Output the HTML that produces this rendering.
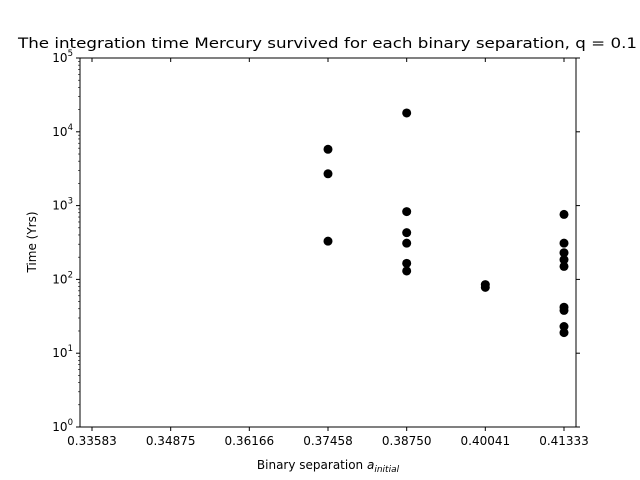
<!DOCTYPE html>
<html><head><meta charset="utf-8"><style>
body{margin:0;background:#fff;}
svg{display:block;font-family:"DejaVu Sans","Liberation Sans",sans-serif;}
</style></head><body>
<svg id="chart" width="640" height="480"></svg>
<script>
const xTicks=[0.33583,0.34875,0.36166,0.37458,0.38750,0.40041,0.41333];
const xTickLabels=["0.33583","0.34875","0.36166","0.37458","0.38750","0.40041","0.41333"];
const yTickExps=[0,1,2,3,4,5];
const pointX=[0.37458,0.37458,0.37458,0.38750,0.38750,0.38750,0.38750,0.38750,0.38750,0.40041,0.40041,0.41333,0.41333,0.41333,0.41333,0.41333,0.41333,0.41333,0.41333,0.41333];
const pointY=[5800,2700,330,18000,830,430,310,165,130,85,78,760,310,230,185,150,42,38,23,19];
const NS="http://www.w3.org/2000/svg";
const svg=document.getElementById('chart');
const L=80,R=576,T=58,B=427,xmin=0.33386,xmax=0.41530;
function sx(v){return L+(v-xmin)/(xmax-xmin)*(R-L);}
function sy(v){return B-(Math.log10(v))/5*(B-T);}
function mk(t,a,txt){const e=document.createElementNS(NS,t);for(const k in a)e.setAttribute(k,a[k]);if(txt!==undefined)e.textContent=txt;svg.appendChild(e);return e;}
let e;
e=mk('rect',{x:L,y:T,width:R-L,height:B-T,fill:'none',stroke:'#000','stroke-width':1});


xTicks.forEach((v,i)=>{
 const x=sx(v);
 e=mk('line',{x1:x,x2:x,y1:B,y2:B+4,stroke:'#000'});
 
 
 e=mk('line',{x1:x,x2:x,y1:T,y2:T+4,stroke:'#000'});
 
 
 e=mk('text',{x:x,y:B+18,'text-anchor':'middle','font-size':12},xTickLabels[i]);
 
 
});
yTickExps.forEach(p=>{
 const y=sy(Math.pow(10,p));
 e=mk('line',{x1:L-4,x2:L,y1:y,y2:y,stroke:'#000'});
 
 
 e=mk('line',{x1:R,x2:R+4,y1:y,y2:y,stroke:'#000'});
 
 
 if(p<5){for(let m=2;m<10;m++){const ym=sy(m*Math.pow(10,p));
  e=mk('line',{x1:L-2,x2:L,y1:ym,y2:ym,stroke:'#000','stroke-width':0.6});
  
  }}
 const t=mk('text',{x:L-7,y:y+4,'text-anchor':'end','font-size':12});
 
 
 t.innerHTML='10<tspan dy="-6" font-size="8.5">'+p+'</tspan>';
});
pointX.forEach((v,i)=>{
 e=mk('circle',{cx:sx(v),cy:sy(pointY[i]),r:4.5,fill:'#000'});
 
 
});
e=mk('text',{x:18,y:48,'font-size':14.4,textLength:619,lengthAdjust:'spacingAndGlyphs'},'The integration time Mercury survived for each binary separation, q = 0.1');


const xl=mk('text',{x:328,y:469,'text-anchor':'middle','font-size':12});


xl.innerHTML='Binary separation <tspan font-style="italic">a</tspan><tspan dy="3" font-size="9" font-style="italic">initial</tspan>';
e=mk('text',{x:36,y:242,'text-anchor':'middle','font-size':12,transform:'rotate(-90 36 242)'},'Time (Yrs)');


</script>
</body></html>
